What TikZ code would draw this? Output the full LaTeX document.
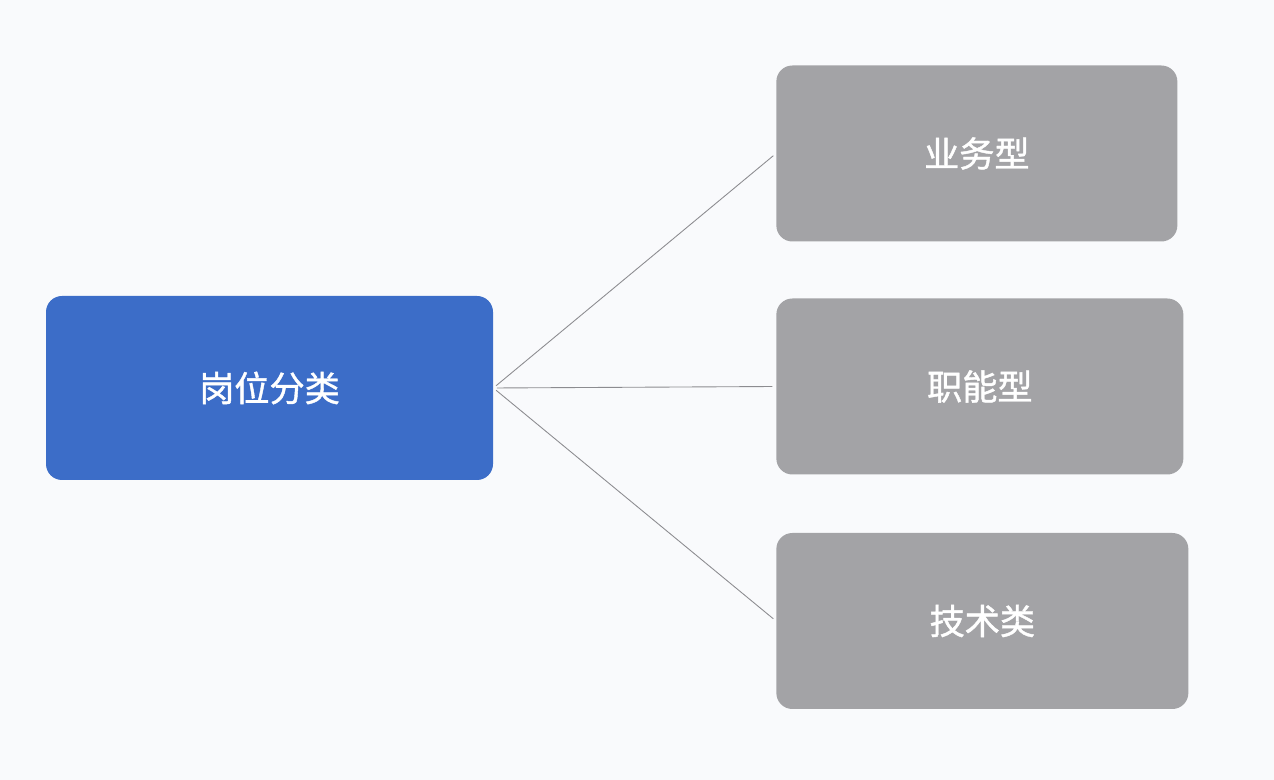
\documentclass[tikz,border=0pt]{standalone}
\usepackage{fontspec}
\newfontfamily\cjk{Noto Sans CJK SC}[FakeBold=1.2]
\usetikzlibrary{positioning}
\definecolor{bgpaper}{HTML}{F9FAFC}
\definecolor{rootblue}{HTML}{3C6DC8}
\definecolor{leafgray}{HTML}{A3A3A6}
\definecolor{linkgray}{HTML}{8C8C90}

\begin{document}
\begin{tikzpicture}[
  root/.style={rectangle,rounded corners=0.32cm,fill=rootblue,text=white,font=\cjk\fontsize{20}{23}\selectfont,minimum width=8.94cm,minimum height=3.68cm},
  leaf/.style={rectangle,rounded corners=0.32cm,fill=leafgray,text=white,font=\cjk\fontsize{20}{23}\selectfont,minimum height=3.52cm,anchor=west},
  link/.style={draw=linkgray,line width=0.5pt,shorten <=2pt,shorten >=2pt}
]
\fill[bgpaper] (0,0) rectangle (25.48,-15.6);
\useasboundingbox (0,0) rectangle (25.48,-15.6);
\node[root] (job) at (5.39,-7.76) {岗位分类};
\node[leaf,minimum width=8.02cm] (biz) at (15.52,-3.07) {业务型};
\node[leaf,minimum width=8.14cm] (func) at (15.52,-7.73) {职能型};
\node[leaf,minimum width=8.24cm] (tech) at (15.52,-12.42) {技术类};
\draw[link] (job.east) -- (biz.west);
\draw[link] (job.east) -- (func.west);
\draw[link] (job.east) -- (tech.west);
\end{tikzpicture}
\end{document}
